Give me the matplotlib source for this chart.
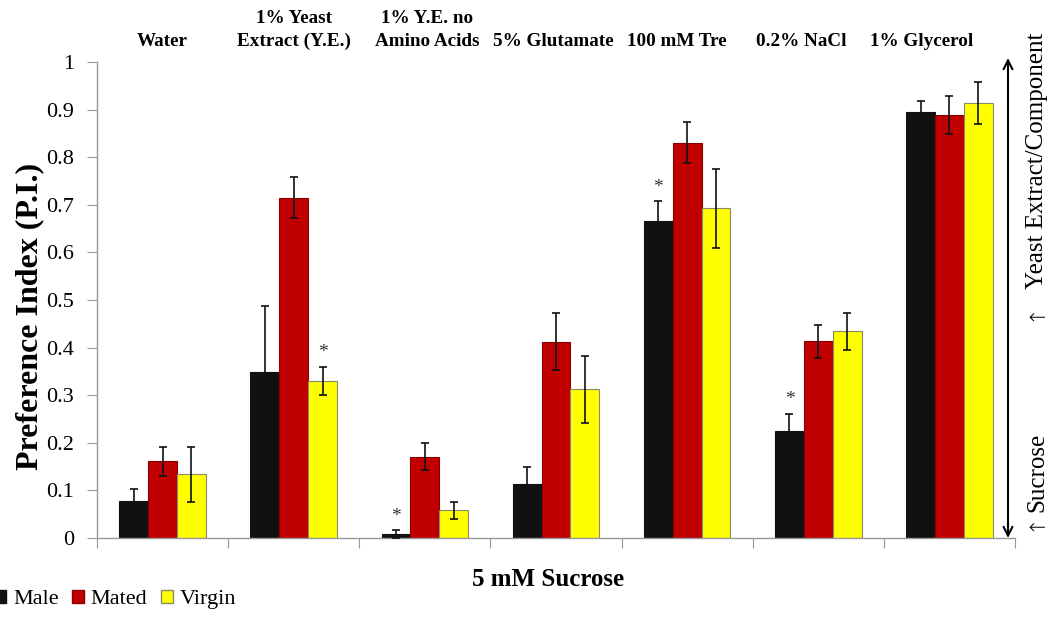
import matplotlib
matplotlib.use("Agg")
import matplotlib.pyplot as plt
from matplotlib.patches import Patch
from matplotlib.transforms import blended_transform_factory
import numpy as np

plt.rcParams['font.family'] = ['Liberation Serif', 'DejaVu Serif']

categories = ["Water", "1% Yeast\nExtract (Y.E.)", "1% Y.E. no\nAmino Acids",
              "5% Glutamate", "100 mM Tre", "0.2% NaCl", "1% Glycerol"]
series_names = ["Male", "Mated", "Virgin"]
male = [0.077, 0.349, 0.008, 0.113, 0.667, 0.224, 0.894]
mated = [0.161, 0.715, 0.171, 0.412, 0.830, 0.413, 0.888]
virgin = [0.134, 0.330, 0.058, 0.312, 0.693, 0.434, 0.913]
male_err = [0.025, 0.139, 0.008, 0.037, 0.040, 0.037, 0.025]
mated_err = [0.030, 0.043, 0.028, 0.060, 0.043, 0.034, 0.040]
virgin_err = [0.058, 0.030, 0.018, 0.070, 0.083, 0.038, 0.044]
# significance stars: (series index, category index)
stars = [(2, 1), (0, 2), (0, 4), (0, 5)]

# horizontal shift of the category headers (layout only, in group units)
label_shift = [0.0, 0.0, 0.02, -0.02, -0.08, -0.13, -0.21]

colors = ["#111111", "#C00000", "#FFFF00"]
edges = ["#111111", "#8a0000", "#8a8a6a"]

W, H = 1056, 618
fig = plt.figure(figsize=(W / 100, H / 100), dpi=100)
ax = fig.add_axes([97 / W, 1 - 538 / H, (1015 - 97) / W, (538 - 62) / H])

x = np.arange(len(categories))
bw = 0.22
vals = [male, mated, virgin]
errs = [male_err, mated_err, virgin_err]
for i in range(3):
    ax.bar(x + (i - 1) * bw, vals[i], bw, color=colors[i], edgecolor=edges[i],
           linewidth=0.8, zorder=2)
    ax.errorbar(x + (i - 1) * bw, vals[i], yerr=errs[i], fmt='none',
                ecolor='#111111', elinewidth=1.2, capsize=3, capthick=1.2, zorder=3)

for s, c in stars:
    top = vals[s][c] + errs[s][c]
    ax.text(x[c] + (s - 1) * bw, top + 0.012, "*", ha='center', va='bottom',
            fontsize=14, color='#333333')

ax.set_xlim(-0.5, len(categories) - 0.5)
ax.set_ylim(0, 1)
ax.set_yticks(np.arange(0, 1.01, 0.1))
ax.set_yticklabels(["0"] + [f"{v:.1f}" for v in np.arange(0.1, 0.95, 0.1)] + ["1"])
ax.set_xticks(np.arange(-0.5, len(categories) + 0.5, 1.0))
ax.set_xticklabels([])
ax.tick_params(axis='y', length=7, color='#999999', labelsize=16, pad=9.5)
ax.tick_params(axis='x', length=7, color='#999999', direction='out')
for sp in ['top', 'right']:
    ax.spines[sp].set_visible(False)
for sp in ['left', 'bottom']:
    ax.spines[sp].set_color('#999999')
    ax.spines[sp].set_linewidth(1)

ax.set_ylabel("Preference Index (P.I.)", fontsize=23, fontweight='bold')
ax.yaxis.set_label_coords(-0.058, 0.466)
fig.text(548 / W, 1 - 580 / H, "5 mM Sucrose", ha='center', va='center',
         fontsize=18, fontweight='bold')

trans = blended_transform_factory(ax.transData, fig.transFigure)
for xi, cat, sh in zip(x, categories, label_shift):
    ax.text(xi + sh, 1 - 46 / H, cat, transform=trans, ha='center', va='baseline',
            fontsize=13.8, fontweight='bold', linespacing=1.45)

ax.annotate("", xy=(1008, H - 58), xytext=(1008, H - 538),
            xycoords='figure pixels', textcoords='figure pixels',
            arrowprops=dict(arrowstyle='<->', color='black', lw=1.5,
                            mutation_scale=16, shrinkA=0, shrinkB=0))
fig.text(1037 / W, 1 - 472 / H, "Sucrose", rotation=90, ha='center',
         va='center', fontsize=18)
fig.text(1037 / W, 1 - 161 / H, "Yeast Extract/Component", rotation=90,
         ha='center', va='center', fontsize=18)
for yy in (522, 312):
    fig.text(1035 / W, 1 - yy / H, "\u2191", rotation=90, ha='center',
             va='center', fontsize=15, family='DejaVu Sans', fontweight='light')

handles = [Patch(facecolor=colors[i], edgecolor=edges[i], label=series_names[i])
           for i in range(3)]
fig.legend(handles=handles, loc='lower left', bbox_to_anchor=(-0.014, 0.0),
           ncol=3, frameon=False, fontsize=16, handlelength=0.55,
           handleheight=0.55, handletextpad=0.3, columnspacing=0.6,
           borderpad=0.2, borderaxespad=0.2)

fig.savefig("out.png", dpi=100)
